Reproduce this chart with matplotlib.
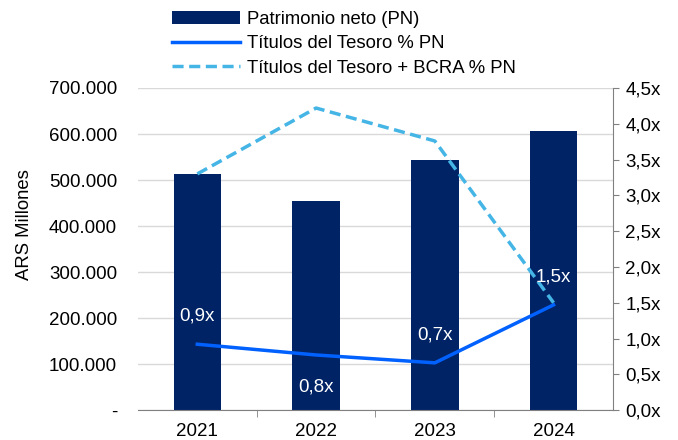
import matplotlib
matplotlib.use('Agg')
import matplotlib.pyplot as plt
from matplotlib.ticker import FuncFormatter

years = ['2021', '2022', '2023', '2024']
patrimonio = [513000, 454000, 543000, 606000]
tesoro = [0.92, 0.77, 0.66, 1.47]
tesoro_bcra = [3.30, 4.22, 3.76, 1.50]
tesoro_labels = ['0,9x', '0,8x', '0,7x', '1,5x']
label_offsets = [28, -32, 28, 28]

plt.rcParams['font.family'] = ['Liberation Sans', 'DejaVu Sans']

fig = plt.figure(figsize=(6.78, 4.4), dpi=100)
ax = fig.add_axes([0.2035, 0.068, 0.7005, 0.732])
ax2 = ax.twinx()

x = range(len(years))
bars = ax.bar(x, patrimonio, width=0.4, color='#002366', label='Patrimonio neto (PN)', zorder=2)
l1, = ax2.plot(x, tesoro, color='#0061FF', lw=2.5, label='Títulos del Tesoro % PN', zorder=3)
l2, = ax2.plot(x, tesoro_bcra, color='#45B5E6', lw=2.5, ls=(0, (3.2, 1.6)),
               label='Títulos del Tesoro + BCRA % PN', zorder=3)

for i, (v, t, off) in enumerate(zip(tesoro, tesoro_labels, label_offsets)):
    ax2.annotate(t, (i, v), xytext=(0, off * 0.72), textcoords='offset points',
                 ha='center', va='center', color='white', fontsize=13.5)

ax.set_xlim(-0.5, 3.5)
ax.set_ylim(0, 700000)
ax2.set_ylim(0, 4.5)
ax.set_yticks(range(0, 700001, 100000))
ax.yaxis.set_major_formatter(FuncFormatter(
    lambda v, p: '-' if v == 0 else f'{int(v):,}'.replace(',', '.')))
ax2.set_yticks([i * 0.5 for i in range(10)])
ax2.yaxis.set_major_formatter(FuncFormatter(lambda v, p: f'{v:.1f}'.replace('.', ',') + 'x'))

ax.set_xticks(list(x))
ax.set_xticklabels(years)
ax.set_xticks([0.5, 1.5, 2.5], minor=True)
ax.tick_params(axis='x', which='major', length=0, labelsize=13.5, pad=9)
ax.tick_params(axis='x', which='minor', length=5, color='#808080')
ax.tick_params(axis='y', length=0, labelsize=13.5, pad=15)
ax2.tick_params(axis='y', length=4, color='#808080', labelsize=13.5, pad=5)

ax.grid(axis='y', color='#D9D9D9', lw=1, zorder=0)
ax.set_axisbelow(True)
for a in (ax, ax2):
    a.spines['top'].set_visible(False)
    a.spines['left'].set_visible(False)
    a.spines['right'].set_visible(False)
    a.spines['bottom'].set_color('#808080')
ax2.spines['right'].set_visible(True)
ax2.spines['right'].set_color('#808080')
ax2.spines['bottom'].set_visible(False)

ax.set_ylabel('ARS Millones', fontsize=13.3)
ax.yaxis.set_label_coords(-0.222, 0.575)

fig.legend(handles=[bars, l1, l2], loc='upper left', bbox_to_anchor=(0.2537, 0.975),
           frameon=False, fontsize=13.3, handlelength=3.68, handletextpad=0.38,
           labelspacing=0.4, borderaxespad=0, borderpad=0)

fig.savefig('out.png', dpi=100)
